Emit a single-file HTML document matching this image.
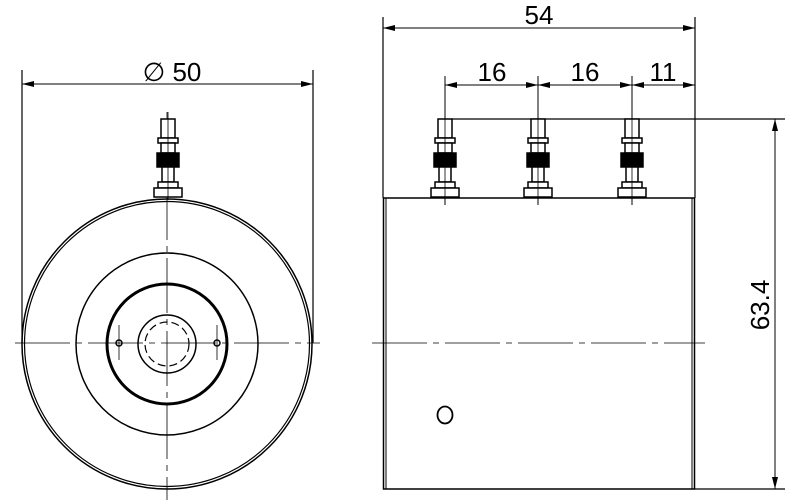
<!DOCTYPE html>
<html><head><style>body{margin:0;background:#fff}svg{display:block}</style></head><body>
<svg width="800" height="500" viewBox="0 0 800 500" xmlns="http://www.w3.org/2000/svg">
<defs>
<marker id="a" viewBox="0 0 12 6" refX="12" refY="3" markerWidth="12" markerHeight="6" markerUnits="userSpaceOnUse" orient="auto-start-reverse"><path d="M0,0 L12,3 L0,6 z" fill="#000"/></marker>
<g id="pin" stroke="#000" stroke-width="1.5" fill="#fff">
<rect x="-7" y="0" width="14" height="19"/>
<rect x="-10" y="19" width="20" height="5"/>
<rect x="-7" y="24" width="14" height="10"/>
<rect x="-11" y="34" width="22" height="14" fill="#000"/>
<rect x="-6" y="48" width="12" height="15"/>
<rect x="-10" y="63" width="20" height="6"/>
<rect x="-14" y="69" width="28" height="9"/>
</g>
</defs>
<g fill="none" stroke="#000">
<line x1="22" y1="70" x2="22" y2="343" stroke-width="1.2"/>
<line x1="313" y1="70" x2="313" y2="343" stroke-width="1.2"/>
<line x1="22" y1="84" x2="313" y2="84" stroke-width="1" marker-start="url(#a)" marker-end="url(#a)"/>
<circle cx="167" cy="344" r="145" stroke-width="1.5"/>
<circle cx="167" cy="344" r="142.5" stroke-width="1.2"/>
<circle cx="167" cy="344" r="91" stroke-width="1.5"/>
<circle cx="167" cy="344" r="60" stroke-width="3"/>
<circle cx="167" cy="344" r="29" stroke-width="1.5"/>
<circle cx="167" cy="344" r="22" stroke-width="1.2" stroke-dasharray="8,4"/>
<circle cx="119" cy="343" r="3" stroke-width="1.5"/>
<circle cx="217" cy="343" r="3" stroke-width="1.5"/>
<line x1="119" y1="325" x2="119" y2="360" stroke-width="0.8"/>
<line x1="217" y1="325" x2="217" y2="360" stroke-width="0.8"/>
<line x1="15" y1="343" x2="320" y2="343" stroke-width="0.8" stroke-dasharray="55,6,6,6"/>
<line x1="167" y1="112" x2="167" y2="500" stroke-width="0.8" stroke-dasharray="55,6,6,6"/>
<rect x="383.5" y="198" width="311" height="291" stroke-width="1.5"/>
<line x1="386" y1="198" x2="386" y2="489" stroke-width="1"/>
<line x1="692" y1="198" x2="692" y2="489" stroke-width="1"/>
<line x1="695" y1="489" x2="785" y2="489" stroke-width="1.2"/>
<ellipse cx="445" cy="415" rx="7.5" ry="8.5" stroke-width="1.8"/>
<line x1="372" y1="343" x2="705" y2="343" stroke-width="0.8" stroke-dasharray="55,6,6,6"/>
<line x1="383" y1="17" x2="383" y2="198" stroke-width="1.2"/>
<line x1="695" y1="17" x2="695" y2="198" stroke-width="1.2"/>
<line x1="383" y1="28" x2="695" y2="28" stroke-width="1" marker-start="url(#a)" marker-end="url(#a)"/>
<line x1="445" y1="76" x2="445" y2="205" stroke-width="1"/>
<line x1="538" y1="76" x2="538" y2="205" stroke-width="1"/>
<line x1="632" y1="76" x2="632" y2="205" stroke-width="1"/>
<line x1="445" y1="85" x2="538" y2="85" stroke-width="1" marker-start="url(#a)" marker-end="url(#a)"/>
<line x1="538" y1="85" x2="632" y2="85" stroke-width="1" marker-start="url(#a)" marker-end="url(#a)"/>
<line x1="632" y1="85" x2="695" y2="85" stroke-width="1" marker-start="url(#a)" marker-end="url(#a)"/>
<line x1="452" y1="119" x2="785" y2="119" stroke-width="1.2"/>
<line x1="775" y1="119" x2="775" y2="489" stroke-width="1" marker-start="url(#a)" marker-end="url(#a)"/>
</g>
<use href="#pin" x="168" y="119"/>
<use href="#pin" x="445" y="119"/>
<use href="#pin" x="538" y="119"/>
<use href="#pin" x="632" y="119"/>
<g stroke="#000" stroke-width="0.8">
<line x1="168" y1="112" x2="168" y2="200"/>
<line x1="445" y1="112" x2="445" y2="205"/>
<line x1="538" y1="112" x2="538" y2="205"/>
<line x1="632" y1="112" x2="632" y2="205"/>
</g>
<g font-family="Liberation Sans, sans-serif" font-size="26" fill="#000" text-anchor="middle">
<text x="172" y="81">∅ 50</text>
<text x="539" y="24">54</text>
<text x="492" y="81">16</text>
<text x="585" y="81">16</text>
<text x="663" y="81">11</text>
<text transform="translate(769,305) rotate(-90)">63.4</text>
</g>
</svg>
</body></html>
